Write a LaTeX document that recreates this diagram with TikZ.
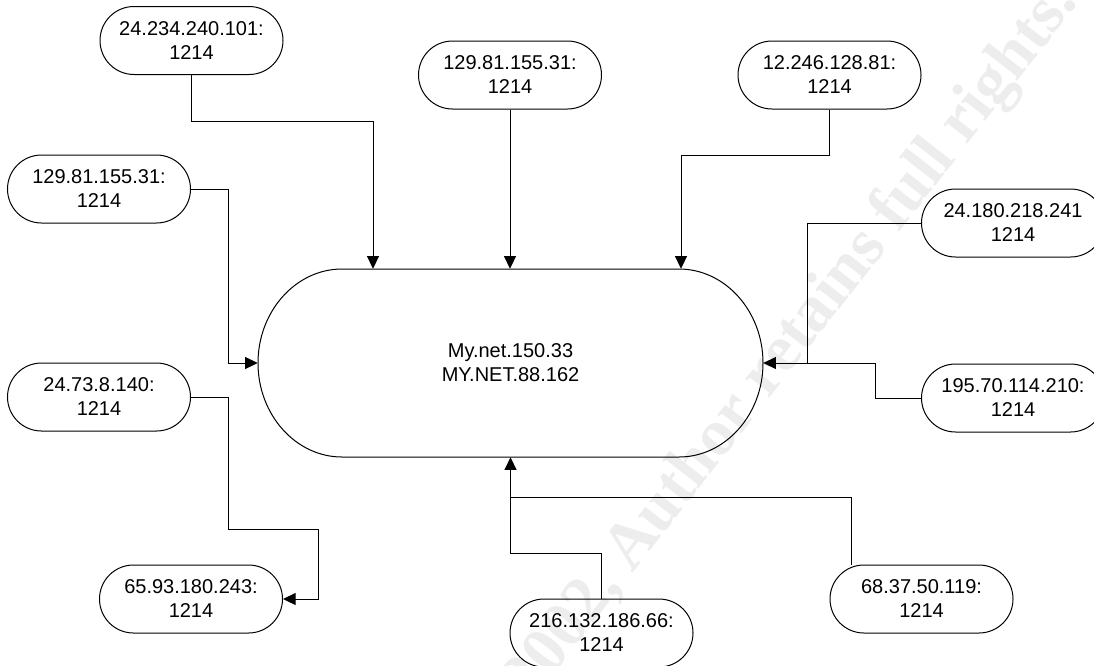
\documentclass[tikz,border=0pt]{standalone}
\usepackage{fontspec}
\setmainfont{Liberation Sans}
\newfontfamily\wmfont{Liberation Serif}
\usetikzlibrary{shapes.misc,arrows.meta}
\begin{document}
\begin{tikzpicture}[x=0.75pt,y=-0.75pt,
  ip/.style={draw,line width=0.75pt,rounded rectangle,minimum width=137.25pt,minimum height=51pt,inner sep=0pt,align=center,font=\fontsize{15}{18}\selectfont},
  conn/.style={line width=0.75pt},
  arr/.style={conn,-{Triangle[length=9.5pt,width=9pt]}},
  wm/.style={font=\wmfont\bfseries\fontsize{49.5}{50}\selectfont,text=black!7,inner sep=0pt}
]
\useasboundingbox (0,0) rectangle (1094,665);
\clip (0,0) rectangle (1094,665);
\fill[white] (0,0) rectangle (1094,665);
% watermark
\node[wm,rotate=52,anchor=base west] (wm) at (612,600) {\llap{© SANS Institute 2002}, Author retains full rights.};

% central node
\node[minimum width=378.75pt,minimum height=141pt,inner sep=0pt,align=center,font=\fontsize{15}{18}\selectfont] (C) at (510.5,363) {My.net.150.33\\MY.NET.88.162};
\draw[line width=0.75pt] (342,269) -- (679,269)
  .. controls (725,269) and (763,311) .. (763,363)
  .. controls (763,415) and (725,457) .. (679,457)
  -- (342,457)
  .. controls (296,457) and (258,415) .. (258,363)
  .. controls (258,311) and (296,269) .. (342,269) -- cycle;

% outer nodes
\node[ip] (n1) at (191.5,40.5) {24.234.240.101:\\1214};
\node[ip] (n2) at (510,75) {129.81.155.31:\\1214};
\node[ip] (n3) at (829.5,75) {12.246.128.81:\\1214};
\node[ip] (n4) at (99,189) {129.81.155.31:\\1214};
\node[ip] (n5) at (99,397) {24.73.8.140:\\1214};
\node[ip] (n6) at (191,599) {65.93.180.243:\\1214};
\node[ip] (n7) at (1013,223) {24.180.218.241\\1214};
\node[ip] (n8) at (1013,398) {195.70.114.210:\\1214};
\node[ip] (n9) at (601.5,633) {216.132.186.66:\\1214};
\node[ip] (n10) at (921.5,599) {68.37.50.119:\\1214};

% bend points
\coordinate (a1) at (373,121);
\coordinate (a3) at (681,155);
\coordinate (a4) at (228,363);
\coordinate (b5) at (228,529);
\coordinate (b6) at (318,599);
\coordinate (a7) at (807,363);
\coordinate (a8) at (875,363);
\coordinate (a9) at (510.5,553);
\coordinate (a10) at (510.5,497);
\coordinate (t10) at (851,0);

% connectors
\draw[arr] (n1.south) |- (a1) -- (a1 |- C.north);
\draw[arr] (n2.south) -- (n2.south |- C.north);
\draw[arr] (n3.south) |- (a3) -- (a3 |- C.north);
\draw[arr] (n4.east) -| (a4) -- (C.west);
\draw[arr] (n5.east) -| (b5) -| (b6) -- (n6.east);
\draw[arr] (n7.west) -| (a7) -- (C.east);
\draw[conn] (n8.west) -| (a8) -- (a7);
\draw[arr] (n9.north) |- (a9) -- (C.south);
\draw[conn] (t10 |- n10.north) |- (a10);
\end{tikzpicture}
\end{document}
